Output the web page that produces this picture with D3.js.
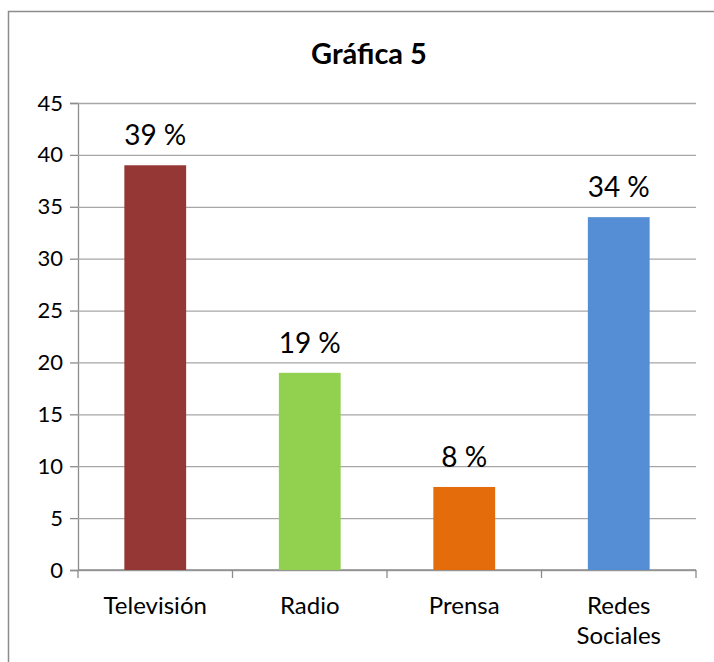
<!DOCTYPE html>
<html>
<head>
<meta charset="utf-8">
<script src="https://cdn.jsdelivr.net/npm/d3@7"></script>
<style>
  body { margin: 0; background: #fff; }
  svg { display: block; font-family: Lato, "Open Sans", sans-serif; }
</style>
</head>
<body>
<div id="chart"></div>
<script>
const categories = ["Televisión", "Radio", "Prensa", "Redes Sociales"];
const values = [39, 19, 8, 34];
const labels = ["39 %", "19 %", "8 %", "34 %"];
const colors = ["#953735", "#92D050", "#E46C0A", "#558ED5"];
const yTicks = [0, 5, 10, 15, 20, 25, 30, 35, 40, 45];

const width = 714;
const height = 662;
const margin = { top: 103, right: 18, bottom: 92, left: 78 };

const svg = d3
  .select("#chart")
  .append("svg")
  .attr("width", width)
  .attr("height", height);

// outer frame
svg
  .append("rect")
  .attr("x", 8.5)
  .attr("y", 11.5)
  .attr("width", 740)
  .attr("height", 720)
  .attr("fill", "none")
  .attr("stroke", "#8c8c8c")
  .attr("stroke-width", 1.5);

svg
  .append("text")
  .attr("x", 369)
  .attr("y", 64)
  .attr("text-anchor", "middle")
  .attr("font-weight", "bold")
  .attr("font-size", 29)
  .attr("fill", "#000")
  .text("Gráfica 5");

const x = d3
  .scaleBand()
  .domain(categories)
  .range([margin.left, width - margin.right])
  .paddingInner(0.6)
  .paddingOuter(0.3);

const y = d3
  .scaleLinear()
  .domain([0, 45])
  .range([height - margin.bottom, margin.top]);

// y axis with gridlines
svg
  .append("g")
  .attr("transform", `translate(${margin.left},0)`)
  .call(
    d3
      .axisLeft(y)
      .tickValues(yTicks)
      .tickSize(8)
      .tickPadding(7)
      .tickFormat(d3.format("d"))
  )
  .call((g) => g.select(".domain").attr("stroke", "#8c8c8c").attr("stroke-width", 1.3))
  .call((g) => g.selectAll(".tick line").attr("stroke", "#8c8c8c").attr("stroke-width", 1.3))
  .call((g) =>
    g
      .selectAll(".tick")
      .append("line")
      .attr("x2", width - margin.right - margin.left)
      .attr("stroke", "#a6a6a6")
      .attr("stroke-width", 1.3)
  )
  .call((g) =>
    g.selectAll(".tick text").attr("font-size", 22).attr("fill", "#000").attr("font-family", "Lato")
  );

// x axis: ticks between categories
const xAxisG = svg
  .append("g")
  .attr("transform", `translate(0,${y(0)})`);

xAxisG
  .append("line")
  .attr("x1", margin.left)
  .attr("x2", width - margin.right)
  .attr("stroke", "#8c8c8c")
  .attr("stroke-width", 1.3);

const bounds = d3.range(categories.length + 1).map((i) => margin.left + i * (width - margin.right - margin.left) / categories.length);

xAxisG
  .selectAll(".sep")
  .data(bounds)
  .join("line")
  .attr("class", "sep")
  .attr("x1", (d) => d)
  .attr("x2", (d) => d)
  .attr("y1", 0)
  .attr("y2", 8)
  .attr("stroke", "#8c8c8c")
  .attr("stroke-width", 1.3);

xAxisG
  .selectAll(".cat")
  .data(categories)
  .join("text")
  .attr("class", "cat")
  .attr("text-anchor", "middle")
  .attr("font-size", 24)
  .attr("fill", "#000")
  .attr("x", (d) => x(d) + x.bandwidth() / 2)
  .attr("y", 44)
  .each(function (d) {
    const words = d.split(" ");
    const t = d3.select(this);
    words.forEach((w, i) => {
      t.append("tspan")
        .attr("x", x(d) + x.bandwidth() / 2)
        .attr("dy", i === 0 ? 0 : 30)
        .text(w);
    });
  });

// bars
svg
  .selectAll(".bar")
  .data(values)
  .join("rect")
  .attr("class", "bar")
  .attr("x", (d, i) => x(categories[i]))
  .attr("y", (d) => y(d))
  .attr("width", x.bandwidth())
  .attr("height", (d) => y(0) - y(d))
  .attr("fill", (d, i) => colors[i]);

// value labels
svg
  .selectAll(".lbl")
  .data(values)
  .join("text")
  .attr("class", "lbl")
  .attr("text-anchor", "middle")
  .attr("font-size", 28)
  .attr("fill", "#000")
  .attr("x", (d, i) => x(categories[i]) + x.bandwidth() / 2)
  .attr("y", (d) => y(d) - 20)
  .text((d, i) => labels[i]);
</script>
</body>
</html>
